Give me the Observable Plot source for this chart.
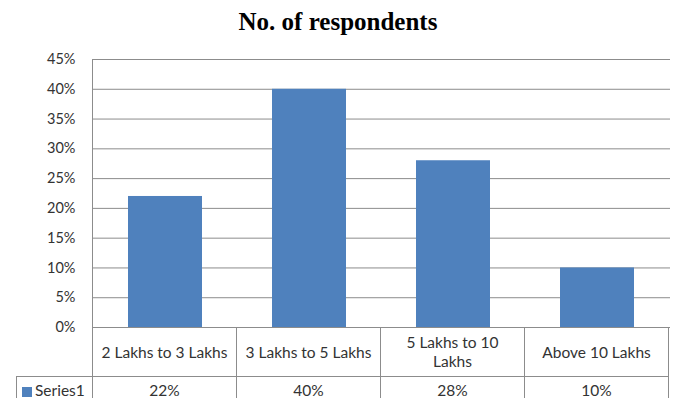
<!DOCTYPE html>
<html><head><meta charset="utf-8">
<script src="https://cdn.jsdelivr.net/npm/d3@7"></script>
<script src="https://cdn.jsdelivr.net/npm/@observablehq/plot@0.6"></script>
<style>
html,body{margin:0;padding:0;background:#fff;}
body{width:676px;height:398px;overflow:hidden;font-family:Lato,"Open Sans",sans-serif;}
#title{height:45px;box-sizing:border-box;padding-top:8px;text-align:center;font:bold 25px/28px "Liberation Serif","Times New Roman",serif;color:#000;}
#chart svg{display:block;}
table{border-collapse:collapse;margin-left:16px;table-layout:fixed;font-size:15.5px;color:#333;}
td{border:1px solid #8c8c8c;text-align:center;padding:0 7px;line-height:19px;}
td.blank{border-left:none;border-top:none;}
td.leg{text-align:left;padding-left:5px;white-space:nowrap;}
.sw{display:inline-block;width:10px;height:10px;background:#4F81BD;margin-right:3px;vertical-align:-1px;}
</style></head><body>
<div id="title">No. of respondents</div>
<div id="chart"></div>
<script>
const categories = ["2 Lakhs to 3 Lakhs", "3 Lakhs to 5 Lakhs", "5 Lakhs to 10 Lakhs", "Above 10 Lakhs"];
const values = [0.22, 0.40, 0.28, 0.10];
const seriesName = "Series1";
const yTicks = [0, 0.05, 0.10, 0.15, 0.20, 0.25, 0.30, 0.35, 0.40, 0.45];

const barColor = "#4F81BD";
const gridColor = "#8c8c8c";
const fmt = d3.format(".0%");
const data = categories.map((c, i) => ({category: c, value: values[i]}));

const plot = Plot.plot({
  width: 676, height: 282,
  marginLeft: 92, marginRight: 6, marginTop: 14, marginBottom: 0,
  style: {background: "white", overflow: "visible", fontFamily: "Lato, 'Open Sans', sans-serif", fontSize: "14.5px", color: "#333"},
  x: {domain: categories, paddingInner: 0.485, paddingOuter: 0.2425, axis: null},
  y: {domain: [0, 0.45], label: null},
  marks: [
    Plot.ruleY(yTicks, {stroke: gridColor, strokeWidth: 1}),
    Plot.barY(data, {x: "category", y: "value", fill: barColor}),
    Plot.frame({anchor: "left", stroke: gridColor}),
    Plot.axisY({ticks: yTicks, tickFormat: fmt, tickSize: 0, tickPadding: 17, label: null})
  ]
});
document.getElementById("chart").appendChild(plot);

// data table below the chart, columns aligned with the x band scale
const xs = plot.scale("x");
const step = xs.step;
const firstW = 92 - 16;
const table = document.createElement("table");
table.style.width = (firstW + step * categories.length) + "px";
const cg = document.createElement("colgroup");
[firstW, ...categories.map(() => step)].forEach(w => {
  const c = document.createElement("col"); c.style.width = w + "px"; cg.appendChild(c);
});
table.appendChild(cg);
const r1 = table.insertRow();
r1.style.height = "49px";
const b = r1.insertCell(); b.className = "blank";
categories.forEach(c => { const td = r1.insertCell(); td.textContent = c; });
const r2 = table.insertRow();
r2.style.height = "28px";
const lc = r2.insertCell(); lc.className = "leg";
lc.innerHTML = '<span class="sw"></span>' + seriesName;
values.forEach(v => { const td = r2.insertCell(); td.textContent = fmt(v); });
document.body.appendChild(table);
</script>
</body></html>
